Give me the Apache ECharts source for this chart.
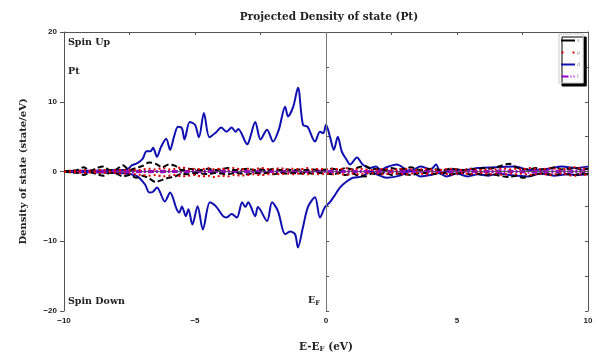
<!DOCTYPE html>
<html><head><meta charset="utf-8">
<script src="https://cdn.jsdelivr.net/npm/echarts@6/dist/echarts.min.js"></script>
<style>html,body{margin:0;padding:0;background:#fff}#c{width:605px;height:358px}</style>
</head><body><div id="c"></div>
<script>
// Energy grid for s, p, f (eV)
const gridE = [-10,-9.75,-9.5,-9.25,-9,-8.75,-8.5,-8.25,-8,-7.75,-7.5,-7.25,-7,-6.75,-6.5,-6.25,-6,-5.75,-5.5,-5.25,-5,-4.75,-4.5,-4.25,-4,-3.75,-3.5,-3.25,-3,-2.75,-2.5,-2.25,-2,-1.75,-1.5,-1.25,-1,-0.75,-0.5,-0.25,0,0.25,0.5,0.75,1,1.25,1.5,1.75,2,2.25,2.5,2.75,3,3.25,3.5,3.75,4,4.25,4.5,4.75,5,5.25,5.5,5.75,6,6.25,6.5,6.75,7,7.25,7.5,7.75,8,8.25,8.5,8.75,9,9.25,9.5,9.75,10];
const sUp = [0.0,0.1,0.2,0.6,0.1,0.5,0.7,0.2,0.3,0.9,0.2,0.5,0.8,1.3,1.1,0.6,1.0,0.8,0.2,0.4,0.3,0.2,0.4,0.2,0.3,0.5,0.2,0.3,0.4,0.2,0.3,0.2,0.4,0.2,0.3,0.2,0.3,0.2,0.3,0.2,0.3,0.4,0.2,0.5,0.3,0.6,0.8,0.3,0.4,0.2,0.5,0.3,0.4,0.6,0.3,0.2,0.4,0.3,0.2,0.4,0.3,0.2,0.4,0.3,0.5,0.4,0.6,0.9,1.1,0.6,0.4,0.3,0.5,0.3,0.4,0.6,0.3,0.4,0.5,0.3,0.4];
const sDn = [0.0,-0.1,-0.2,-0.5,-0.1,-0.4,-0.6,-0.2,-0.3,-0.7,-0.5,-0.9,-0.6,-1.0,-1.5,-1.2,-0.9,-0.7,-0.3,-0.4,-0.2,-0.3,-0.4,-0.2,-0.3,-0.4,-0.2,-0.3,-0.4,-0.2,-0.3,-0.2,-0.4,-0.2,-0.3,-0.2,-0.3,-0.2,-0.3,-0.2,-0.3,-0.4,-0.2,-0.5,-0.3,-0.6,-0.7,-0.3,-0.4,-0.2,-0.5,-0.3,-0.4,-0.5,-0.3,-0.2,-0.4,-0.3,-0.2,-0.4,-0.3,-0.2,-0.4,-0.3,-0.5,-0.4,-0.5,-0.7,-0.8,-0.6,-0.9,-0.7,-0.4,-0.3,-0.4,-0.5,-0.3,-0.4,-0.5,-0.3,-0.4];
const pUp = [0.0,0.1,0.1,0.2,0.1,0.2,0.2,0.1,0.2,0.2,0.3,0.2,0.3,0.4,0.3,0.5,0.3,0.4,0.6,0.3,0.4,0.3,0.5,0.3,0.4,0.3,0.5,0.3,0.4,0.3,0.5,0.4,0.3,0.5,0.3,0.4,0.3,0.5,0.3,0.4,0.3,0.4,0.3,0.5,0.3,0.4,0.3,0.2,0.3,0.4,0.2,0.3,0.4,0.3,0.2,0.4,0.3,0.2,0.3,0.4,0.3,0.2,0.4,0.3,0.2,0.4,0.3,0.5,0.3,0.4,0.3,0.5,0.4,0.3,0.5,0.4,0.3,0.5,0.6,0.4,0.5];
const pDn = [0.0,-0.1,-0.1,-0.2,-0.1,-0.2,-0.2,-0.1,-0.2,-0.3,-0.3,-0.4,-0.5,-0.6,-0.5,-0.7,-0.6,-0.5,-0.7,-0.6,-0.5,-0.7,-0.6,-0.8,-0.6,-0.7,-0.5,-0.6,-0.5,-0.4,-0.5,-0.4,-0.3,-0.4,-0.3,-0.4,-0.3,-0.4,-0.3,-0.4,-0.3,-0.4,-0.3,-0.5,-0.3,-0.4,-0.3,-0.2,-0.3,-0.4,-0.2,-0.3,-0.4,-0.3,-0.2,-0.4,-0.3,-0.2,-0.3,-0.4,-0.3,-0.2,-0.4,-0.3,-0.2,-0.4,-0.3,-0.5,-0.3,-0.4,-0.3,-0.5,-0.4,-0.3,-0.5,-0.4,-0.3,-0.5,-0.6,-0.4,-0.5];
const fUp = [0.0,0.05,0.05,0.1,0.05,0.1,0.1,0.05,0.1,0.1,0.1,0.15,0.1,0.15,0.1,0.15,0.1,0.1,0.15,0.1,0.1,0.15,0.1,0.1,0.15,0.1,0.1,0.15,0.1,0.1,0.15,0.1,0.1,0.15,0.1,0.1,0.15,0.1,0.1,0.15,0.1,0.15,0.1,0.1,0.15,0.1,0.1,0.15,0.1,0.1,0.15,0.1,0.1,0.15,0.1,0.1,0.15,0.1,0.1,0.15,0.1,0.1,0.15,0.1,0.15,0.1,0.15,0.2,0.15,0.1,0.15,0.2,0.15,0.1,0.2,0.15,0.1,0.2,0.15,0.2,0.15];
const fDn = [0.0,-0.05,-0.05,-0.1,-0.05,-0.1,-0.1,-0.05,-0.1,-0.1,-0.1,-0.15,-0.1,-0.15,-0.1,-0.15,-0.1,-0.1,-0.15,-0.1,-0.1,-0.15,-0.1,-0.1,-0.15,-0.1,-0.1,-0.15,-0.1,-0.1,-0.15,-0.1,-0.1,-0.15,-0.1,-0.1,-0.15,-0.1,-0.1,-0.15,-0.1,-0.15,-0.1,-0.1,-0.15,-0.1,-0.1,-0.15,-0.1,-0.1,-0.15,-0.1,-0.1,-0.15,-0.1,-0.1,-0.15,-0.1,-0.1,-0.15,-0.1,-0.1,-0.15,-0.1,-0.15,-0.1,-0.15,-0.2,-0.15,-0.1,-0.15,-0.2,-0.15,-0.1,-0.2,-0.15,-0.1,-0.2,-0.15,-0.2,-0.15];
// d orbital: energies and values
const dUpE = [-10,-9.5,-9,-8.5,-8,-7.6,-7.4,-7.2,-7.0,-6.85,-6.7,-6.6,-6.45,-6.3,-6.1,-5.95,-5.8,-5.65,-5.5,-5.4,-5.2,-5.0,-4.85,-4.66,-4.45,-4.2,-4.0,-3.8,-3.6,-3.45,-3.35,-3.0,-2.9,-2.7,-2.5,-2.25,-2.02,-1.8,-1.56,-1.45,-1.25,-1.07,-0.88,-0.7,-0.42,-0.23,-0.1,0.0,0.15,0.3,0.45,0.6,0.8,0.92,1.18,1.4,1.68,1.9,2.1,2.3,2.7,3.2,3.6,4.0,4.2,4.4,4.8,5.3,5.8,6.5,7.2,7.8,8.5,9.0,9.5,10];
const dUpV = [0.05,0.1,0.1,0.15,0.2,0.3,0.9,1.2,1.8,2.9,2.9,3.4,2.1,3.5,4.7,3.1,5.0,6.4,6.2,4.6,7.1,6.7,4.9,8.4,4.9,5.6,6.3,5.7,6.3,5.7,6.1,3.9,4.8,7.1,4.6,6.0,4.3,6.0,9.3,7.9,9.3,12.0,6.7,6.4,4.3,5.7,5.5,6.7,5.0,3.1,5.0,2.9,1.6,1.0,2.0,1.0,0.5,0.7,0.2,0.6,1.0,0.0,0.7,0.3,1.0,-0.4,0.3,0.2,0.5,0.6,0.7,0.2,0.4,0.7,0.5,0.7];
const dDnE = [-10,-9.5,-9,-8.5,-8,-7.6,-7.2,-6.9,-6.75,-6.6,-6.45,-6.15,-5.95,-5.7,-5.6,-5.5,-5.35,-5.25,-5.1,-4.9,-4.7,-4.43,-4.2,-3.93,-3.8,-3.6,-3.4,-3.2,-3.08,-2.97,-2.7,-2.6,-2.25,-2.06,-1.83,-1.56,-1.37,-1.18,-1.07,-0.88,-0.69,-0.42,-0.23,-0.04,0.15,0.3,0.53,0.8,1.03,1.4,1.68,2.0,2.3,2.7,3.0,3.2,3.6,4.0,4.3,4.6,5.0,5.4,5.8,6.2,6.6,7.0,7.7,8.2,8.7,9.2,9.6,10];
const dDnV = [-0.05,-0.1,-0.1,-0.15,-0.2,-0.3,-0.7,-1.9,-3.0,-2.9,-2.3,-4.3,-3.0,-5.4,-5.9,-5.0,-6.4,-5.4,-7.6,-5.0,-8.3,-4.4,-5.0,-6.4,-6.6,-6.1,-6.6,-4.4,-5.1,-4.4,-6.4,-5.1,-7.1,-4.4,-5.7,-9.0,-8.6,-9.0,-10.9,-8.0,-5.1,-3.7,-6.6,-5.1,-4.4,-3.6,-2.3,-1.4,-0.9,-0.7,0.0,-0.5,-0.9,-0.7,-0.3,0.2,-0.7,-0.5,-0.2,-0.7,-0.3,-0.7,-0.4,-0.6,-0.3,-0.5,-0.7,-0.3,-0.6,-0.4,-0.5,-0.4];
const legendNames = ['s','p','d','f'];

function pairs(xs, ys){ return xs.map((x,i)=>[x, ys[i]]); }
const serif = 'DejaVu Serif';
const sans = 'Liberation Sans';
const colS = '#000000', colP = '#e00000', colD = '#1010b0', colF = '#9a00c8';

function mk(name, data, color, type, width, smooth){
  return { name, type:'line', data, showSymbol:false, symbol:'none', smooth: smooth,
    lineStyle:{color, width, type}, itemStyle:{color}, animation:false, xAxisIndex:0, yAxisIndex:0 };
}
const series = [
  mk('d', pairs(dUpE,dUpV), colD, 'solid', 2, 0.3),
  mk('d', pairs(dDnE,dDnV), colD, 'solid', 2, 0.3),
  mk('f', pairs(gridE,fUp), colF, [6,2,2,2], 1.5, 0.3),
  mk('f', pairs(gridE,fDn), colF, [6,2,2,2], 1.5, 0.3),
  mk('s', pairs(gridE,sUp), colS, [6,3], 2, 0.3),
  mk('s', pairs(gridE,sDn), colS, [6,3], 2, 0.3),
  mk('p', pairs(gridE,pUp), colP, [2,3], 2, 0.3),
  mk('p', pairs(gridE,pDn), colP, [2,3], 2, 0.3)
];
series[0].markLine = { silent:true, symbol:'none', label:{show:false},
  lineStyle:{color:'#777', width:1, type:'solid'}, data:[{xAxis:0}] };

const icons = {
  s:'path://M0,0L14,0L14,2L0,2Z',
  p:'path://M0,0L2,0L2,2L0,2ZM11,0L13,0L13,2L11,2Z',
  d:'path://M0,0L14,0L14,2L0,2Z',
  f:'path://M0,0L7,0L7,2L0,2ZM9,0L10,0L10,2L9,2ZM12,0L13,0L13,2L12,2Z'
};
const colsByName = {s:colS, p:colP, d:colD, f:colF};

const minus = v => String(v).replace('-', '\u2212');
const chart = echarts.init(document.getElementById('c'));
chart.setOption({
  animation:false,
  backgroundColor:'#fff',
  title:{ text:'Projected Density of state (Pt)', left:324, top:7, textAlign:'center',
    textStyle:{fontFamily:serif, fontWeight:'bold', fontSize:10.5, color:'#222'} },
  legend:{ data:legendNames.map(n=>({name:n, icon:icons[n], itemStyle:{color:colsByName[n]}})),
    orient:'vertical', left:559, top:34, itemWidth:14, itemHeight:2, itemGap:7,
    padding:[4,3,4,2], backgroundColor:'#fff', borderColor:'#ccc', borderWidth:1,
    shadowColor:'#000', shadowOffsetX:3, shadowOffsetY:3, shadowBlur:0,
    textStyle:{fontSize:5, color:'#888', fontFamily:serif, padding:[0,0,0,-3]} },
  grid:{ left:64, right:17, top:32, bottom:46 },
  xAxis:[
    { type:'value', min:-10, max:10, interval:5, position:'bottom',
      name:'E-E{sub|F} (eV)', nameLocation:'middle', nameGap:31,
      nameTextStyle:{fontFamily:serif, fontWeight:'bold', fontSize:10.5, color:'#222',
        rich:{sub:{fontFamily:serif, fontWeight:'bold', fontSize:7, color:'#222', padding:[4,0,0,0]}}},
      axisLine:{lineStyle:{color:'#555', width:1}},
      axisTick:{length:4, lineStyle:{color:'#555'}},
      axisLabel:{fontFamily:sans, fontWeight:'bold', fontSize:8, color:'#222', margin:6, formatter:minus},
      splitLine:{show:false} },
    { type:'value', min:-10, max:10, interval:2.5, position:'top',
      axisLine:{onZero:false, lineStyle:{color:'#555', width:1}},
      axisTick:{inside:true, length:3, lineStyle:{color:'#555'}},
      axisLabel:{show:false}, splitLine:{show:false} },
    { type:'value', min:-10, max:10, interval:2.5, position:'bottom',
      axisLine:{show:false}, axisTick:{inside:true, length:3, lineStyle:{color:'#555'}},
      axisLabel:{show:false}, splitLine:{show:false} }
  ],
  yAxis:[
    { type:'value', min:-20, max:20, interval:10, position:'left',
      name:'Density of state (state/eV)', nameLocation:'middle', nameGap:36,
      nameTextStyle:{fontFamily:serif, fontWeight:'bold', fontSize:10, color:'#222'},
      axisLine:{onZero:false, lineStyle:{color:'#555', width:1}},
      axisTick:{length:4, lineStyle:{color:'#555'}},
      axisLabel:{fontFamily:sans, fontWeight:'bold', fontSize:8, color:'#222', margin:7, formatter:minus},
      splitLine:{show:false} },
    { type:'value', min:-20, max:20, interval:5, position:'right',
      axisLine:{onZero:false, lineStyle:{color:'#555', width:1}},
      axisTick:{inside:true, length:3, lineStyle:{color:'#555'}},
      axisLabel:{show:false}, splitLine:{show:false} },
    { type:'value', min:-20, max:20, interval:5, position:'left',
      axisLine:{show:false}, axisTick:{inside:true, length:3, lineStyle:{color:'#555'}},
      axisLabel:{show:false}, splitLine:{show:false} }
  ],
  graphic:[
    { type:'text', left:68, top:38, style:{text:'Spin Up', font:'bold 9.5px "DejaVu Serif"', fill:'#222'} },
    { type:'text', left:68, top:67, style:{text:'Pt', font:'bold 9.5px "DejaVu Serif"', fill:'#222'} },
    { type:'text', left:68, top:297, style:{text:'Spin Down', font:'bold 9.5px "DejaVu Serif"', fill:'#222'} },
    { type:'text', left:308, top:296, style:{text:'E{s|F}', font:'bold 9.5px "DejaVu Serif"', fill:'#222',
        rich:{s:{font:'bold 6.5px "DejaVu Serif"', fill:'#222', padding:[4,0,0,0]}}} }
  ],
  series
});
</script></body></html>
